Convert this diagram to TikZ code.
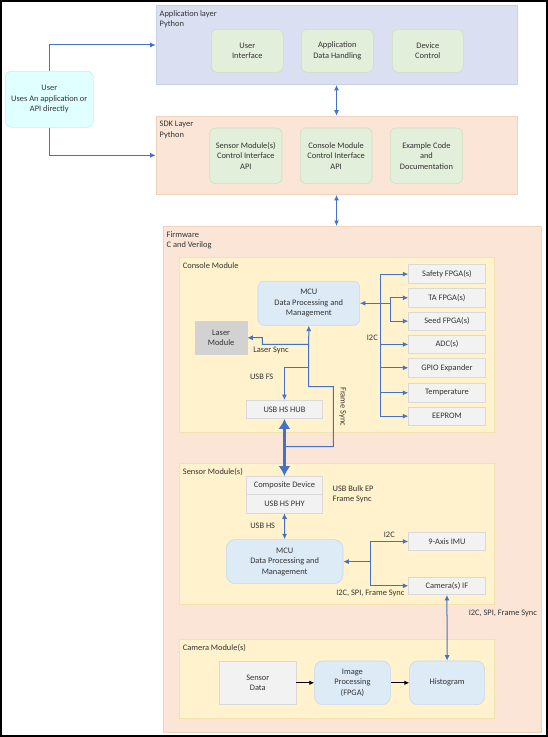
\documentclass[tikz,border=0pt]{standalone}
\usepackage{fontspec}
\setmainfont{Carlito}
\usetikzlibrary{arrows.meta}
\definecolor{appfill}{HTML}{DAE0F2}
\definecolor{appdraw}{HTML}{C8CFE8}
\definecolor{sdkfill}{HTML}{FBE5D6}
\definecolor{sdkdraw}{HTML}{F0D2BE}
\definecolor{modfill}{HTML}{FFF2CC}
\definecolor{moddraw}{HTML}{F2E2B0}
\definecolor{grfill}{HTML}{E2EFDA}
\definecolor{grdraw}{HTML}{CCE0C0}
\definecolor{userfill}{HTML}{E0FFFF}
\definecolor{userdraw}{HTML}{C6EDF0}
\definecolor{mcufill}{HTML}{DDEBF7}
\definecolor{mcudraw}{HTML}{C2D8EE}
\definecolor{gyfill}{HTML}{F2F2F2}
\definecolor{gydraw}{HTML}{D9D9D9}
\definecolor{lasfill}{HTML}{D2D2D2}
\definecolor{lasdraw}{HTML}{D2D2D2}
\definecolor{arrblue}{HTML}{4472C4}
\definecolor{txt}{HTML}{333333}
\tikzset{
  every node/.style={font=\fontsize{8.4}{10.4}\selectfont, text=txt},
  layer/.style={draw=#1draw, fill=#1fill, line width=0.6pt, anchor=north west, inner sep=0},
  rbox/.style={draw=#1draw, fill=#1fill, line width=0.6pt, rounded corners=6pt, anchor=north west, align=center, inner sep=1pt},
  sbox/.style={draw=#1draw, fill=#1fill, line width=0.6pt, anchor=north west, align=center, inner sep=1pt},
  lbl/.style={anchor=north west, align=left, inner sep=0},
  tag/.style={inner sep=0, align=left},
  barr/.style={draw=arrblue, line width=1pt, -{Latex[length=5.5pt,width=5pt]}},
  bline/.style={draw=arrblue, line width=1pt},
  bdbl/.style={draw=arrblue, line width=1pt, {Latex[length=5.5pt,width=5pt]}-{Latex[length=5.5pt,width=5pt]}},
  thick arrow/.style={draw=arrblue, line width=3.8pt, {Latex[length=10pt,width=12pt]}-{Latex[length=10pt,width=12pt]}},
  karr/.style={draw=black, line width=0.9pt, -{Latex[length=5pt,width=4.5pt]}},
}
\begin{document}
\begin{tikzpicture}[x=1pt,y=-1pt]
\useasboundingbox (0,0) rectangle (548,737);
\draw[line width=1.6pt] (0.8,0.8) rectangle (547.2,736.2);

% layers
\node[layer=app, minimum width=361pt, minimum height=79.3pt] (app) at (155.7,5) {};
\node[lbl] (applbl) at (159.5,10.2) {Application layer\\Python};
\node[layer=sdk, minimum width=361pt, minimum height=78.6pt] (sdk) at (155.7,115.7) {};
\node[lbl] (sdklbl) at (159.5,121.2) {SDK Layer\\Python};
\node[layer=sdk, minimum width=377.7pt, minimum height=505.7pt] (fw) at (163.3,226) {};
\node[lbl] (fwlbl) at (166.5,231.4) {Firmware\\C and Verilog};
\node[layer=mod, minimum width=315pt, minimum height=174.4pt] (cons) at (179.3,257.3) {};
\node[lbl] (conslbl) at (182.7,262.4) {Console Module};
\node[layer=mod, minimum width=315pt, minimum height=141pt] (sens) at (179.3,463.3) {};
\node[lbl] (senslbl) at (182.7,467.8) {Sensor Module(s)};
\node[layer=mod, minimum width=315pt, minimum height=78.4pt] (camm) at (179.3,639.3) {};
\node[lbl] (cammlbl) at (182.7,644.1) {Camera Module(s)};

% app boxes
\node[rbox=gr, minimum width=72pt, minimum height=43pt] (ui) at (211,29) {User\\Interface};
\node[rbox=gr, minimum width=72pt, minimum height=43pt] (adh) at (301,29) {Application\\Data Handling};
\node[rbox=gr, minimum width=71pt, minimum height=43pt] (dc) at (392,29) {Device\\Control};
% user
\node[rbox=user, minimum width=88pt, minimum height=56pt] (user) at (5,71) {User\\Uses An application or\\API directly};
% sdk boxes
\node[rbox=gr, minimum width=72.4pt, minimum height=55.6pt] (smci) at (209.3,127.7) {Sensor Module(s)\\Control Interface\\API};
\node[rbox=gr, minimum width=71.7pt, minimum height=55.6pt] (cmci) at (300,127.7) {Console Module\\Control Interface\\API};
\node[rbox=gr, minimum width=72.3pt, minimum height=55.6pt] (ex) at (390,127.7) {Example Code\\and\\Documentation};

% console module
\node[rbox=mcu, minimum width=101.6pt, minimum height=44pt] (mcu1) at (257.7,281) {MCU\\Data Processing and\\Management};
\node[sbox=las, minimum width=51.7pt, minimum height=33.6pt] (laser) at (195,320.7) {Laser\\Module};
\node[sbox=gy, minimum width=76.7pt, minimum height=19pt] (safety) at (408.3,264.3) {Safety FPGA(s)};
\node[sbox=gy, minimum width=76.7pt, minimum height=18.4pt] (ta) at (408.3,288.3) {TA FPGA(s)};
\node[sbox=gy, minimum width=76.7pt, minimum height=18.3pt] (seed) at (408.3,311.7) {Seed FPGA(s)};
\node[sbox=gy, minimum width=76.7pt, minimum height=18.3pt] (adc) at (408.3,335) {ADC(s)};
\node[sbox=gy, minimum width=76.7pt, minimum height=18.4pt] (gpio) at (408.3,358.3) {GPIO Expander};
\node[sbox=gy, minimum width=76.7pt, minimum height=18.4pt] (temp) at (408.3,383.3) {Temperature};
\node[sbox=gy, minimum width=76.7pt, minimum height=18.3pt] (eeprom) at (408.3,406.7) {EEPROM};
\node[sbox=gy, minimum width=76.3pt, minimum height=18.3pt] (hub) at (246,400) {USB HS HUB};

% sensor module
\node[sbox=gy, minimum width=76.3pt, minimum height=18.3pt] (comp) at (246,476) {Composite Device};
\node[sbox=gy, minimum width=76.3pt, minimum height=18.4pt] (phy) at (246,494.3) {USB HS PHY};
\node[rbox=mcu, rounded corners=9pt, minimum width=116.7pt, minimum height=44pt] (mcu2) at (226,539.3) {MCU\\Data Processing and\\Management};
\node[sbox=gy, minimum width=76.7pt, minimum height=17.7pt] (imu) at (408.3,532.3) {9-Axis IMU};
\node[sbox=gy, minimum width=76.7pt, minimum height=17.6pt] (cam) at (408.3,576.7) {Camera(s) IF};

% camera module
\node[sbox=gy, minimum width=76.4pt, minimum height=43.6pt] (sd) at (219.3,660.7) {Sensor\\Data};
\node[rbox=mcu, rounded corners=8pt, minimum width=75.7pt, minimum height=43.6pt] (ip) at (314.3,660.7) {Image\\Processing\\(FPGA)};
\node[rbox=mcu, rounded corners=8pt, minimum width=75pt, minimum height=43.6pt] (hist) at (409.3,660.7) {Histogram};

% connectors top
\draw[barr] (user.north) |- (app.west);
\draw[barr] (user.south) |- (sdk.west);
\draw[bdbl] (app.south) -- (sdk.north);
\draw[bdbl] (sdk.south) -- (sdk.south |- fw.north);

% console I2C bus
\coordinate (busA) at (380,0);
\coordinate (busB) at (390,0);
\draw[bline] (busA |- safety.west) -- (busA |- eeprom.west);
\draw[barr] (busA |- safety.west) -- (safety.west);
\draw[barr] (busA |- adc.west) -- (adc.west);
\draw[barr] (busA |- gpio.west) -- (gpio.west);
\draw[barr] (busA |- temp.west) -- (temp.west);
\draw[barr] (busA |- eeprom.west) -- (eeprom.west);
\draw[barr] (busB |- mcu1.east) -- (mcu1.east);
\draw[bline] (busB |- ta.west) -- (busB |- seed.west);
\draw[barr] (busB |- ta.west) -- (ta.west);
\draw[barr] (busB |- seed.west) -- (seed.west);
\node[tag] (i2c1) at (372.3,337.5) {I2C};

% MCU1 lower paths
\coordinate (fs1) at (308.5,386.7);
\coordinate (fs2) at (333.3,386.7);
\coordinate (fs3) at (333.3,446.7);
\coordinate (fs4) at (285,446.7);
\draw[barr] (fs4) -- (fs3) -- (fs2) -- (fs1) -- (mcu1.south);
\coordinate (ls1) at (308.5,344.3);
\coordinate (ls2) at (262.3,344.3);
\coordinate (ls3) at (262.3,337.5);
\draw[barr] (ls1) -- (ls2) -- (ls3) -- (laser.east);
\coordinate (us1) at (308.5,367);
\draw[barr] (us1) -| (hub.north);
\node[tag] (lsl) at (271,350) {Laser Sync};
\node[tag] (usbfs) at (261.7,376.7) {USB FS};
\node[tag, rotate=-90] (fsl) at (342.7,406.7) {Frame Sync};

% hub to composite
\draw[thick arrow] (hub.south) -- (comp.north);
\node[tag, anchor=west] (bulk) at (332.5,494.2) {USB Bulk EP\\Frame Sync};

% sensor module connectors
\draw[bdbl] (phy.south) -- (mcu2.north);
\node[tag] (usbhs) at (262.7,526) {USB HS};
\coordinate (busC) at (370,0);
\draw[barr] (busC |- mcu2.east) -- (mcu2.east);
\draw[bline] (busC |- imu.west) -- (busC |- cam.west);
\draw[barr] (busC |- imu.west) -- (imu.west);
\draw[barr] (busC |- cam.west) -- (cam.west);
\node[tag] (i2c2) at (389.3,534.3) {I2C};
\node[tag] (isf1) at (370.3,593.3) {I2C, SPI, Frame Sync};
\draw[bdbl] (cam.south) -- (hist.north);
\node[tag] (isf2) at (502.8,613.3) {I2C, SPI, Frame Sync};

% camera module arrows
\draw[karr] (sd.east) -- (ip.west);
\draw[karr] (ip.east) -- (hist.west);
\end{tikzpicture}
\end{document}
